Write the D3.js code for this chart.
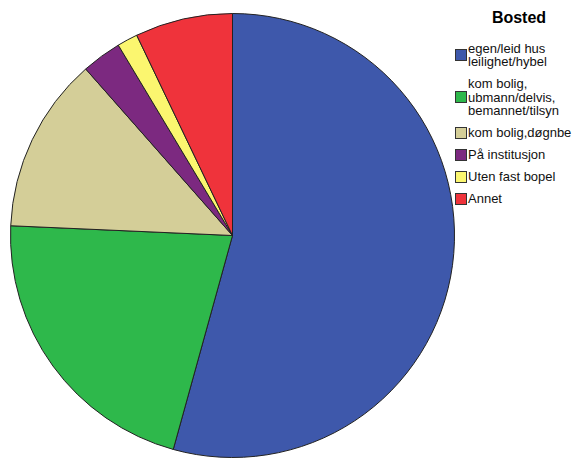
<!DOCTYPE html>
<html>
<head>
<meta charset="utf-8">
<script src="https://cdn.jsdelivr.net/npm/d3@7"></script>
<style>
  body { margin: 0; background: #fff; }
  svg { display: block; font-family: "Liberation Sans", Arial, sans-serif; }
</style>
</head>
<body>
<div class="chart"></div>
<script>
// Bosted categories (legend labels, line breaks as in the original)
let categories = [
  ["egen/leid hus", "leilighet/hybel"],
  ["kom bolig,", "ubmann/delvis,", "bemannet/tilsyn"],
  ["kom bolig,døgnbe"],
  ["På institusjon"],
  ["Uten fast bopel"],
  ["Annet"],
];

// share of cases in percent
let values = [54.3, 21.4, 12.8, 2.9, 1.5, 7.1];

let colors = ["#3e58ab", "#2eb84b", "#d4ce98", "#7c2980", "#fbf66f", "#ef333b"];

let width = 581,
  height = 459,
  cx = 232.5,
  cy = 235.5,
  radius = 222;

let svg = d3
  .select(".chart")
  .append("svg")
  .attr("width", width)
  .attr("height", height);

let pie = d3.pie().sort(null).value((d) => d);
let arc = d3.arc().innerRadius(0).outerRadius(radius);

svg
  .append("g")
  .attr("transform", "translate(" + cx + "," + cy + ")")
  .selectAll("path")
  .data(pie(values))
  .enter()
  .append("path")
  .attr("d", arc)
  .attr("fill", (d, i) => colors[i])
  .attr("stroke", "#222")
  .attr("stroke-width", 1)
  .attr("stroke-linejoin", "round");

// legend
svg
  .append("text")
  .attr("x", 519)
  .attr("y", 23)
  .attr("text-anchor", "middle")
  .attr("font-weight", "bold")
  .attr("font-size", 16)
  .text("Bosted");

let lineH = 13.5,
  gap = 8.5,
  legendX = 455,
  box = 12;

let legend = svg.append("g").attr("id", "legend");
let y = 0;
let centers = [];
categories.forEach((c, i) => {
  let top = i === 0 ? 55 - (c.length * lineH) / 2 : y;
  let center = top + (c.length * lineH) / 2;
  centers.push({ top: top, center: center });
  y = top + c.length * lineH + gap;
});

let items = legend
  .selectAll("g")
  .data(categories)
  .enter()
  .append("g");

items
  .append("rect")
  .attr("x", legendX + 0.5)
  .attr("y", (d, i) => Math.round(centers[i].center - box / 2) + 0.5)
  .attr("width", box - 1)
  .attr("height", box - 1)
  .attr("fill", (d, i) => colors[i])
  .attr("stroke", "#333")
  .attr("stroke-width", 1);

items.each(function (d, i) {
  let t = d3
    .select(this)
    .append("text")
    .attr("font-size", 13)
    .attr("fill", "#111");
  d.forEach((line, j) => {
    t.append("tspan")
      .attr("x", legendX + box + 1)
      .attr("y", centers[i].top + j * lineH + lineH / 2 + 4.5)
      .text(line);
  });
});
</script>
</body>
</html>
